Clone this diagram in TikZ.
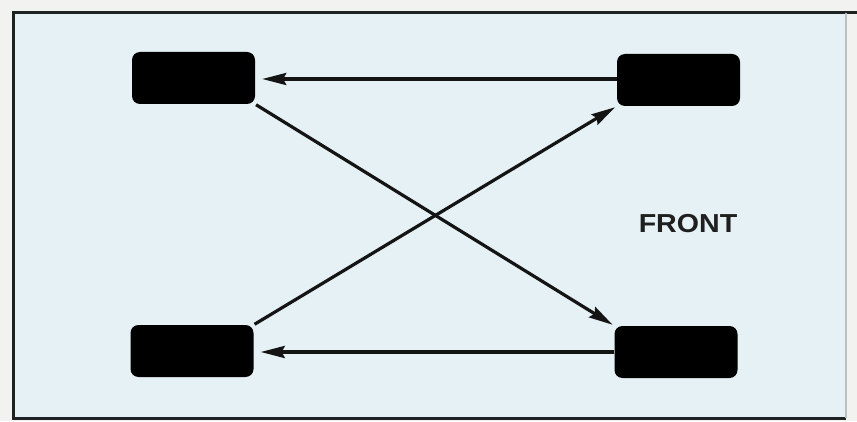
\documentclass[tikz,border=0pt]{standalone}
\usepackage{fontspec}
\setmainfont{Liberation Sans}
\usetikzlibrary{arrows.meta}
\definecolor{outbg}{HTML}{F2F2F0}
\definecolor{inbg}{HTML}{E5F1F4}
\definecolor{framec}{HTML}{1E2222}
\tikzset{
  tire/.style={fill=black, draw=none, rounded corners=8pt, minimum width=123pt, minimum height=52pt, inner sep=0pt},
  conn/.style={line width=3.2pt, draw=black!92, -{Stealth[length=24pt,width=12pt,inset=3pt]}},
  lbl/.style={font=\bfseries\fontsize{26}{26}\selectfont, text=black!88}
}
\begin{document}
\begin{tikzpicture}[x=1pt,y=1pt]
\useasboundingbox (0,0) rectangle (857,421);
\fill[outbg] (0,0) rectangle (857,421);
\fill[inbg] (13,3) rectangle (846,408);
\draw[framec, line width=3pt] (857,408) -- (13,408) -- (13,3) -- (846,3);
\draw[black!25, line width=1.2pt] (846,3) -- (846,408);
\node[tire] (tl) at (193.5,343) {};
\node[tire] (tr) at (678.5,341) {};
\node[tire] (bl) at (192,70) {};
\node[tire] (br) at (676,69) {};
\node[lbl, xscale=1.1] (front) at (688,197) {FRONT};
\draw[conn, shorten >=7pt] (tr.west |- 0,342) -- (tl.east |- 0,342);
\draw[conn, shorten >=7pt] (br.west |- 0,69) -- (bl.east |- 0,69);
\draw[conn, shorten <=1pt, shorten >=2pt] (tl.south east) -- (br.north west);
\draw[conn, shorten <=1pt, shorten >=2pt] (bl.north east) -- (tr.south west);
\end{tikzpicture}
\end{document}
